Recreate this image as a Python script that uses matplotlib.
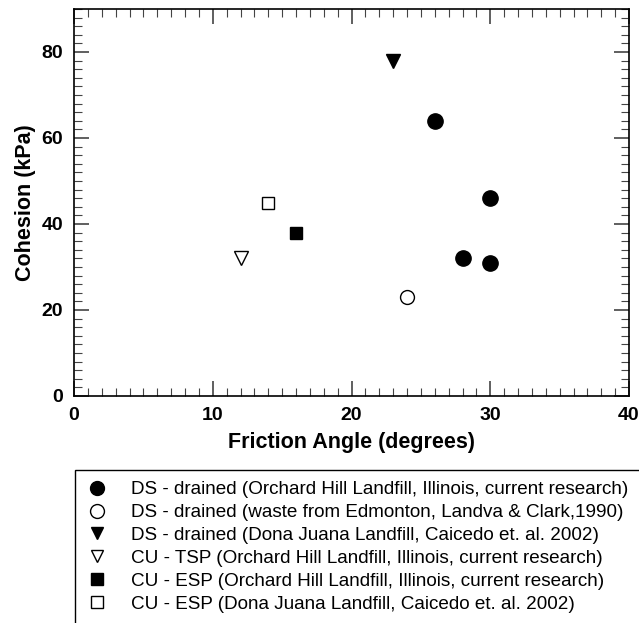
import matplotlib.pyplot as plt
from matplotlib.patches import Rectangle
from matplotlib.lines import Line2D

plt.rcParams['font.family'] = ['Liberation Sans', 'DejaVu Sans']

# data
ds_oh_x = [26, 30, 28, 30]
ds_oh_y = [64, 46, 32, 31]
ds_edm_x = [24]
ds_edm_y = [23]
ds_dj_x = [23]
ds_dj_y = [78]
cu_tsp_x = [12]
cu_tsp_y = [32]
cu_esp_oh_x = [16]
cu_esp_oh_y = [38]
cu_esp_dj_x = [14]
cu_esp_dj_y = [45]

labels = [
    'DS - drained (Orchard Hill Landfill, Illinois, current research)',
    'DS - drained (waste from Edmonton, Landva & Clark,1990)',
    'DS - drained (Dona Juana Landfill, Caicedo et. al. 2002)',
    'CU - TSP (Orchard Hill Landfill, Illinois, current research)',
    'CU - ESP (Orchard Hill Landfill, Illinois, current research)',
    'CU - ESP (Dona Juana Landfill, Caicedo et. al. 2002)',
]

fig = plt.figure(figsize=(6.39, 6.23), dpi=100)
ax = fig.add_axes([74/639, 1-396/623, 555/639, 387/623])

ax.plot(ds_oh_x, ds_oh_y, 'o', color='black', ms=11, ls='none')
ax.plot(ds_edm_x, ds_edm_y, 'o', mfc='white', mec='black', mew=1, ms=10, ls='none')
ax.plot(ds_dj_x, ds_dj_y, 'v', color='black', ms=10, ls='none')
ax.plot(cu_tsp_x, cu_tsp_y, 'v', mfc='white', mec='black', mew=1, ms=10, ls='none')
ax.plot(cu_esp_oh_x, cu_esp_oh_y, 's', color='black', ms=9, ls='none')
ax.plot(cu_esp_dj_x, cu_esp_dj_y, 's', mfc='white', mec='black', mew=1, ms=9, ls='none')

ax.set_xlim(0, 40)
ax.set_ylim(0, 90)
ax.set_xticks([0, 10, 20, 30, 40])
ax.set_yticks([0, 20, 40, 60, 80])
ax.set_xticks(range(0, 41), minor=True)
ax.set_yticks(range(0, 91, 2), minor=True)
ax.tick_params(which='both', direction='in', top=True, right=True, color='#444444')
ax.tick_params(which='major', length=11, width=1.2, labelsize=14, pad=8)
ax.tick_params(which='minor', length=6, width=0.8)
for lab in ax.get_xticklabels() + ax.get_yticklabels():
    lab.set_fontweight('bold')
for s in ax.spines.values():
    s.set_linewidth(1.2)

ax.set_xlabel('Friction Angle (degrees)', fontsize=15.5, fontweight='bold', labelpad=6)
ax.set_ylabel('Cohesion (kPa)', fontsize=15.5, fontweight='bold', labelpad=4)

# legend box runs off the figure edge
fig.patches.append(Rectangle((75/639, -0.1), 1.0, 1-470/623 + 0.1,
                             transform=fig.transFigure, fill=False,
                             edgecolor='black', lw=1.0))

handles = [
    Line2D([], [], marker='o', color='black', ls='none', ms=10),
    Line2D([], [], marker='o', mfc='white', mec='black', mew=1, ls='none', ms=10),
    Line2D([], [], marker='v', color='black', ls='none', ms=9),
    Line2D([], [], marker='v', mfc='white', mec='black', mew=1, ls='none', ms=9),
    Line2D([], [], marker='s', color='black', ls='none', ms=8.5),
    Line2D([], [], marker='s', mfc='white', mec='black', mew=1, ls='none', ms=8.5),
]
fig.legend(handles, labels, loc='upper left', bbox_to_anchor=(88/639, 1-481/623),
           frameon=False, fontsize=13.6, handlelength=1.0, handletextpad=1.3,
           labelspacing=0.3, borderaxespad=0, borderpad=0)

fig.savefig('out.png', dpi=100)
